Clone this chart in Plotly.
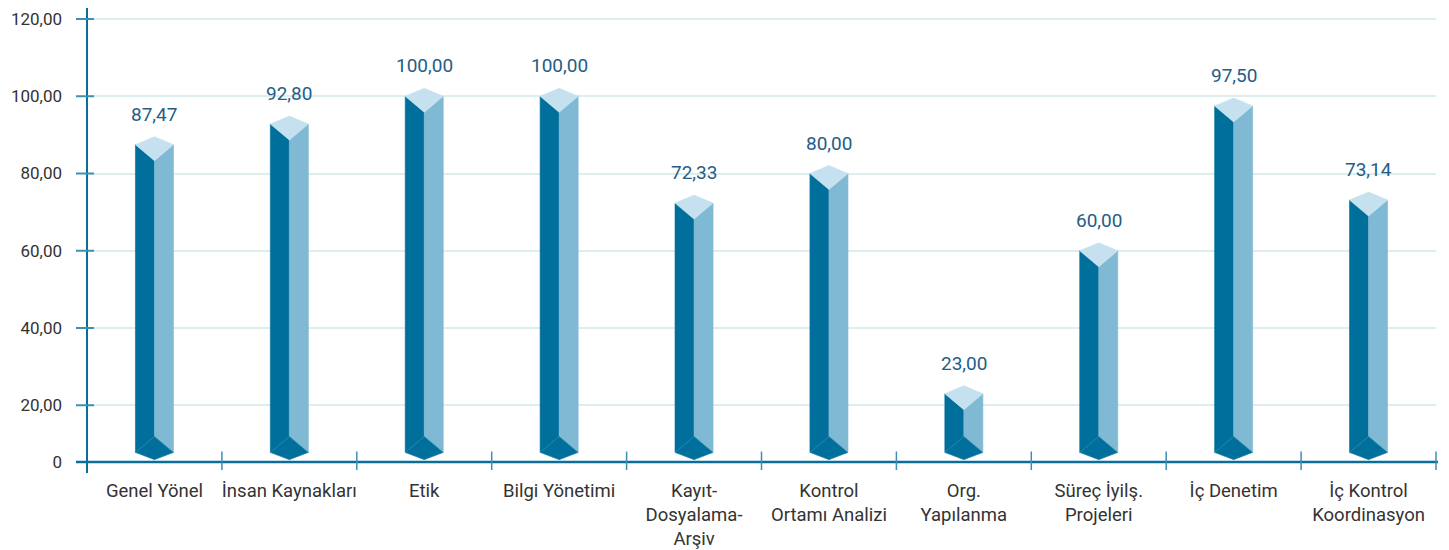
import plotly.graph_objects as go

categories = ["Genel Yönel", "İnsan Kaynakları", "Etik", "Bilgi Yönetimi",
              "Kayıt-<br>Dosyalama-<br>Arşiv", "Kontrol<br>Ortamı Analizi",
              "Org.<br>Yapılanma", "Süreç İyilş.<br>Projeleri", "İç Denetim",
              "İç Kontrol<br>Koordinasyon"]
values = [87.47, 92.80, 100.00, 100.00, 72.33, 80.00, 23.00, 60.00, 97.50, 73.14]
value_labels = ["87,47", "92,80", "100,00", "100,00", "72,33", "80,00", "23,00", "60,00", "97,50", "73,14"]
ytick_vals = [20, 40, 60, 80, 100, 120]
ytick_text = ["20,00", "40,00", "60,00", "80,00", "100,00", "120,00"]

W, H = 1449, 550
ML, MR, MT, MB = 79, 21, 0, 96
PW, PH = W - ML - MR, H - MT - MB
PX_PER_UNIT = 3.8625
Y_BOT = 5.307
Y_TOP = Y_BOT + PH / PX_PER_UNIT
KY = 1 / PX_PER_UNIT  # data units per pixel

DARK = "#006f9b"
LIGHT = "#80b9d4"
TOPC = "#c5e1ef"
AXIS = "#0b6e99"
TICKC = "#3d8fb5"
GRID = "#dcefee"
TXT = "#333333"
VAL = "#255d86"
FONT = "Roboto"

n = len(categories)
hw = 0.141
base_side = 7.79
base_back = 11.93
base_front = 5.90

lf_x, lf_y, rf_x, rf_y, tp_x, tp_y, bt_x, bt_y = [], [], [], [], [], [], [], []
for i, v in enumerate(values):
    L, C, R = i - hw, i, i + hw
    st, tb, tf = v, v + 8 * KY, v - 16 * KY
    lf_x += [L, C, C, L, L, None]; lf_y += [st, tf, base_back, base_side, st, None]
    rf_x += [C, R, R, C, C, None]; rf_y += [tf, st, base_side, base_back, tf, None]
    tp_x += [L, C, R, C, L, None]; tp_y += [st, tb, st, tf, st, None]
    bt_x += [L, C, R, C, L, None]; bt_y += [base_side, base_back, base_side, base_front, base_side, None]

fig = go.Figure()
for xs, ys, col, lc in [(lf_x, lf_y, DARK, DARK), (rf_x, rf_y, LIGHT, LIGHT),
                        (tp_x, tp_y, TOPC, TOPC), (bt_x, bt_y, DARK, "#2a84ad")]:
    fig.add_trace(go.Scatter(x=xs, y=ys, mode="lines", fill="toself", fillcolor=col,
                             line=dict(color=lc, width=0.6), hoverinfo="skip",
                             showlegend=False))

annotations = []
for i, (v, t) in enumerate(zip(values, value_labels)):
    annotations.append(dict(x=i, y=v + 8 * KY, text=t, showarrow=False, yanchor="bottom",
                            xanchor="center", yshift=9, font=dict(family=FONT, size=19, color=VAL)))

shapes = []
# y axis line (extends below x axis)
shapes.append(dict(type="line", xref="paper", yref="paper", x0=0, x1=0,
                   y0=-11 / PH, y1=1 + 1 / PH, line=dict(color=AXIS, width=2)))
# x axis line
shapes.append(dict(type="line", xref="paper", yref="paper", x0=-11 / PW, x1=1 + 2 / PW,
                   y0=0, y1=0, line=dict(color=AXIS, width=2.5)))
# y ticks
for tv in ytick_vals:
    shapes.append(dict(type="line", xref="paper", yref="y", x0=-11 / PW, x1=7 / PW,
                       y0=tv, y1=tv, line=dict(color=TICKC, width=2)))
# x ticks at category boundaries
for k in range(1, n + 1):
    shapes.append(dict(type="line", xref="paper", yref="paper", x0=k / n, x1=k / n,
                       y0=-8 / PH, y1=10.5 / PH, line=dict(color=TICKC, width=1.5)))

fig.update_layout(
    width=W, height=H,
    margin=dict(l=ML, r=MR, t=MT, b=MB, autoexpand=False),
    paper_bgcolor="white", plot_bgcolor="white",
    shapes=shapes, annotations=annotations,
    xaxis=dict(range=[-0.5, n - 0.5], tickvals=list(range(n)), ticktext=categories,
               showgrid=False, zeroline=False, showline=False, ticks="",
               tickfont=dict(family=FONT, size=18.5, color=TXT), ticklabelstandoff=15),
    yaxis=dict(range=[Y_BOT, Y_TOP], tickvals=[Y_BOT] + ytick_vals, ticktext=["0"] + ytick_text,
               showgrid=True, gridcolor=GRID, gridwidth=1.5, zeroline=False, showline=False,
               ticks="", tickfont=dict(family=FONT, size=17, color=TXT), ticklabelstandoff=24),
)

fig.write_html("out.html")
